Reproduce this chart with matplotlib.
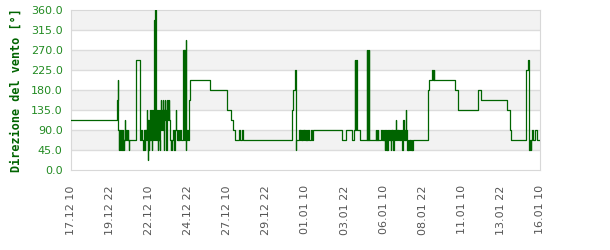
import numpy as np
import matplotlib
matplotlib.use("Agg")
import matplotlib.pyplot as plt
import matplotlib.dates as mdates

# wind direction, step data: hours since 17.12 10:00 and value from that hour on
hours_a = [
    0, 71.0, 71.5, 72.5, 73.0, 74.0, 74.5, 75.5, 76.5, 77.0, 78.0, 79.0, 79.5,
    80.5, 81.5, 82.0, 83.0, 83.5, 84.5, 85.5, 87.0, 87.5, 89.0, 89.5,
    100.3, 105.3, 106.5, 107.5, 109.0, 110.5, 111.5, 112.5, 113.0, 113.5, 114.5,
    115.5, 116.5, 117.0, 117.5,
]
dir_a = [
    112.5, 157.5, 202.5, 90, 45, 90, 45, 67.5, 45, 90, 67.5, 45, 90,
    67.5, 45, 67.5, 112.5, 67.5, 90, 67.5, 90, 67.5, 45, 67.5,
    247.5, 90, 67.5, 90, 67.5, 45, 67.5, 90, 45, 90, 67.5,
    90, 135, 67.5, 112.5,
]

# the busy stretch around 22.12 (hour, direction)
busy = [
    (118.0, 22.5), (118.4, 90), (118.8, 112.5), (119.2, 67.5), (119.6, 45),
    (120.0, 112.5), (120.4, 67.5), (120.8, 135), (121.2, 90), (121.6, 112.5),
    (122.0, 67.5), (122.4, 112.5), (122.8, 90), (123.2, 135), (123.6, 67.5),
    (124.0, 112.5), (124.4, 45), (124.8, 112.5), (125.2, 67.5), (125.6, 135),
    (126.0, 90), (126.4, 112.5), (126.8, 67.5), (127.2, 135), (127.6, 67.5),
    (128.0, 337.5), (128.4, 112.5), (128.8, 337.5), (129.2, 67.5), (129.6, 360),
    (130.0, 90), (130.4, 360), (130.8, 67.5), (131.2, 135), (131.6, 90),
    (132.0, 112.5), (132.4, 67.5), (132.8, 135), (133.2, 45), (133.6, 112.5),
    (134.0, 67.5), (134.4, 135), (134.8, 90), (135.2, 112.5), (135.6, 67.5),
    (136.0, 45), (136.4, 112.5), (136.8, 135), (137.2, 90), (137.6, 135),
    (138.0, 112.5), (138.4, 157.5), (138.8, 112.5), (139.2, 135), (139.6, 90),
    (140.0, 135), (140.4, 112.5), (140.8, 157.5), (141.2, 112.5), (141.6, 135),
    (142.0, 90), (142.4, 135), (142.8, 45), (143.2, 135), (143.6, 112.5),
    (144.0, 157.5), (144.4, 112.5), (144.8, 135), (145.2, 90), (145.6, 135),
    (146.0, 112.5), (146.4, 45), (146.8, 135), (147.2, 112.5), (147.6, 157.5),
    (148.0, 135), (148.4, 157.5), (148.8, 112.5), (149.2, 157.5), (149.6, 135),
    (150.0, 112.5), (150.4, 157.5), (150.8, 135), (151.2, 112.5), (151.6, 90),
]

hours_b = [
    152.0, 153.0, 153.5, 155.0, 155.5, 157.0,
    157.5, 158.5, 159.0, 160.0, 161.0, 161.5, 162.5, 163.5, 164.5, 165.5, 166.5,
    168.0, 169.0, 172.4, 173.0, 173.3, 174.5, 175.0, 175.8, 176.3, 176.8, 177.3,
    178.0, 179.0, 180.5, 182.5, 213.4, 239.5, 245.0, 248.5, 251.8, 258.2, 258.8,
    263.0, 264.0, 339.7, 341.2, 344.0, 344.8, 346.0,
    350, 351, 352, 353, 354, 355, 356, 357, 358, 359, 360, 361, 362, 363, 364,
    365.0, 368.4, 370.0, 372.0, 416.5, 422.6, 431.8, 434.0, 435.5, 436.2, 436.8,
    437.5, 438.0, 438.6, 443.7, 454.4, 455.0, 455.8, 456.5, 457.0, 457.5,
    468.0, 468.7, 469.3, 470.0, 470.6, 471.2, 476.0, 476.7, 477.3, 478.0, 478.6,
    479.3, 480.0, 481.0, 482.0, 482.6, 483.2, 483.8, 484.4, 485.0, 485.6, 486.2,
    486.8, 487.4, 488.0, 489.0, 490.0, 491.0, 492.0, 492.6, 493.2, 494.0, 495.0,
    496.0, 496.6, 497.2, 498.3, 498.8, 499.4, 500.0, 500.6, 501.2, 501.8, 502.4,
    503.0, 503.6, 504.2, 504.8, 505.4, 506.0, 506.6, 507.2, 508.5, 509.0, 509.5,
    510.0, 510.6, 511.2, 511.8, 512.5, 513.0, 514.0, 514.7, 515.3, 515.9, 516.5,
    517.1, 517.7, 518.3, 518.9, 519.5, 520.1, 520.7, 521.3, 521.9, 522.5, 523.1,
    523.7, 524.3, 524.9, 525.5,
    548.5, 550.0, 554.6, 555.1, 555.6, 556.1, 556.6, 557.0, 590.0, 593.6, 625.3,
    629.4, 669.8, 674.0, 675.5, 698.0, 701.4, 701.8, 702.2, 702.6, 704.0, 705.5,
    706.5, 708.0, 709.0, 712.8, 715.8, 720.0,
]
dir_b = [
    67.5, 45, 67.5, 45, 67.5, 90,
    67.5, 45, 67.5, 90, 135, 90, 67.5, 90, 67.5, 90, 67.5,
    90, 67.5, 270, 67.5, 270, 247.5, 67.5, 247.5, 45, 292.5, 67.5,
    90, 67.5, 157.5, 202.5, 180, 135, 112.5, 90, 67.5, 90, 67.5,
    90, 67.5, 135, 180, 225, 45, 67.5,
    90, 67.5, 90, 67.5, 90, 67.5, 90, 67.5, 90, 67.5, 90, 67.5, 90, 67.5, 90,
    67.5, 90, 67.5, 90, 67.5, 90, 67.5, 90, 247.5, 90, 247.5,
    90, 247.5, 90, 67.5, 270, 67.5, 270, 67.5, 270, 67.5,
    90, 67.5, 90, 67.5, 90, 67.5, 90, 67.5, 90, 67.5, 90,
    67.5, 90, 67.5, 45, 90, 45, 67.5, 45, 90, 45, 90,
    45, 90, 67.5, 90, 67.5, 45, 90, 67.5, 90, 67.5, 45,
    90, 67.5, 90, 112.5, 90, 67.5, 90, 67.5, 90, 67.5, 90,
    67.5, 90, 67.5, 90, 67.5, 90, 67.5, 90, 45, 90, 45,
    112.5, 90, 112.5, 67.5, 90, 67.5, 135, 90, 45, 67.5, 45,
    67.5, 45, 67.5, 45, 67.5, 45, 67.5, 45, 67.5, 45, 67.5,
    45, 67.5, 45, 67.5,
    180, 202.5, 225, 202.5, 225, 202.5, 225, 202.5, 180, 135, 180,
    157.5, 135, 90, 67.5, 225, 247.5, 225, 247.5, 45, 67.5, 45,
    67.5, 90, 67.5, 90, 67.5, 67.5,
]

hours = hours_a + [h for h, _ in busy] + hours_b
direction = dir_a + [d for _, d in busy] + dir_b

start = np.datetime64("2022-12-17T10:00")
times = start + (np.array(hours) * 60).astype("timedelta64[m]")
tick_times = start + np.arange(0, 721, 60).astype("timedelta64[h]")

fig = plt.figure(figsize=(6.1, 2.5), dpi=100)
ax = fig.add_axes([71 / 610, 80 / 250, 469 / 610, 160 / 250])

# alternating bands and grid
for lo in [45, 135, 225, 315]:
    ax.axhspan(lo, lo + 45, color="#f2f2f2", zorder=0, lw=0)
for y in np.arange(45, 360, 45):
    ax.axhline(y, color="#dcdcdc", lw=1, zorder=1)

ax.step(times, direction, where="post", color="#006400", lw=0.9, zorder=3)

ax.set_ylim(0, 360)
ax.set_xlim(times[0], times[-1])
ax.set_yticks(np.arange(0, 361, 45))
ax.yaxis.set_major_formatter(matplotlib.ticker.FormatStrFormatter("%.1f"))
ax.set_xticks(tick_times)
ax.xaxis.set_major_formatter(mdates.DateFormatter("%d.%m %H"))
for lab in ax.get_xticklabels():
    lab.set_rotation(90)

ax.tick_params(axis="y", length=0, pad=6, labelsize=8, labelcolor="#228b22")
ax.tick_params(axis="x", length=0, pad=11, labelsize=8, labelcolor="#555555")
for s in ax.spines.values():
    s.set_color("#d8d8d8")

ax.set_ylabel("Direzione del vento [°]", family="DejaVu Sans Mono",
              fontweight="bold", fontsize=8.5, color="#006400", labelpad=6)

fig.savefig("out.png", dpi=100)
